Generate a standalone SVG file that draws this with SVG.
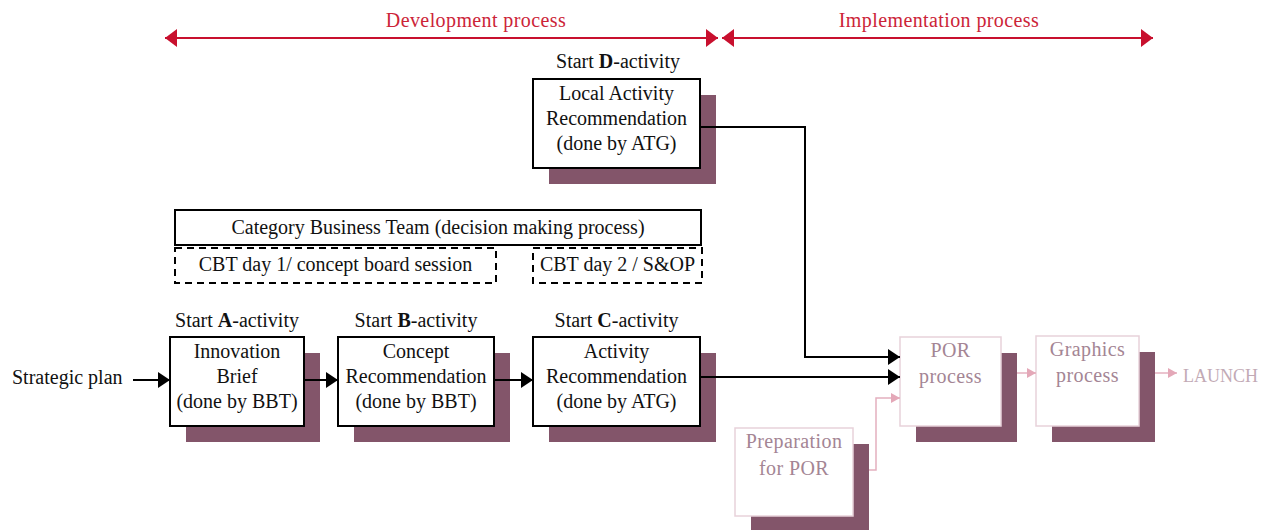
<svg xmlns="http://www.w3.org/2000/svg" width="1267" height="530" viewBox="0 0 1267 530">
  <style>
    text { font-family: "Liberation Serif", "Times New Roman", serif; font-size: 20px; fill: #111; }
    .mid { text-anchor: middle; }
    .phase { fill: #cc2438; letter-spacing: 0.4px; }
    .box { fill: #fff; stroke: #000; stroke-width: 2; }
    .dash { fill: none; stroke: #000; stroke-width: 2; stroke-dasharray: 7 5; }
    .shadow { fill: #83556a; }
    .pale { fill: #fff; stroke: #e8d2da; stroke-width: 1.5; }
    .paletext { fill: #a48594; letter-spacing: 0.4px; }
    .launch { fill: #c2aab5; font-size: 18px; }
    .flow { fill: none; stroke: #000; stroke-width: 2; }
    .pflow { fill: none; stroke: #e4b0bf; stroke-width: 1.5; }
    .span { fill: none; stroke: #c8102e; stroke-width: 2; }
  </style>
  <defs>
    <marker id="ah" markerWidth="12" markerHeight="16" refX="12" refY="8" orient="auto" markerUnits="userSpaceOnUse">
      <path d="M0,0 L12,8 L0,16 z" fill="#000"/>
    </marker>
    <marker id="ahp" markerWidth="9" markerHeight="10" refX="9" refY="5" orient="auto" markerUnits="userSpaceOnUse">
      <path d="M0,0 L9,5 L0,10 z" fill="#e4a8b8"/>
    </marker>
    <marker id="ahr" markerWidth="12" markerHeight="18" refX="12" refY="9" orient="auto-start-reverse" markerUnits="userSpaceOnUse">
      <path d="M0,0 L12,9 L0,18 z" fill="#c8102e"/>
    </marker>
  </defs>

  <!-- phase spans -->
  <g id="phases">
    <text class="phase mid" x="476" y="27">Development process</text>
    <path class="span" d="M165,38 H718" marker-start="url(#ahr)" marker-end="url(#ahr)"/>
    <text class="phase mid" x="939" y="27">Implementation process</text>
    <path class="span" d="M722,38 H1153" marker-start="url(#ahr)" marker-end="url(#ahr)"/>
  </g>

  <!-- decision making bar -->
  <g id="cbt">
    <rect class="box" x="175" y="210" width="526" height="35"/>
    <text class="mid" x="438" y="234">Category Business Team (decision making process)</text>
  </g>
  <g id="cbt-day1">
    <rect class="dash" x="175" y="248" width="321" height="35"/>
    <text class="mid" x="335.5" y="271">CBT day 1/ concept board session</text>
  </g>
  <g id="cbt-day2">
    <rect class="dash" x="533" y="248" width="169" height="35"/>
    <text class="mid" x="617.5" y="271">CBT day 2 / S&amp;OP</text>
  </g>

  <g id="strategic-plan">
    <text x="12" y="384">Strategic plan</text>
  </g>

  <!-- activity boxes -->
  <g id="activity-a">
    <text class="mid" x="237" y="327">Start <tspan font-weight="bold">A</tspan>-activity</text>
    <rect class="shadow" x="186" y="353" width="134" height="89"/>
    <rect class="box" x="170" y="337" width="134" height="89"/>
    <text class="mid" x="237" y="358">Innovation</text>
    <text class="mid" x="237" y="383">Brief</text>
    <text class="mid" x="237" y="408">(done by BBT)</text>
  </g>
  <g id="activity-b">
    <text class="mid" x="416" y="327">Start <tspan font-weight="bold">B</tspan>-activity</text>
    <rect class="shadow" x="354" y="353" width="156" height="89"/>
    <rect class="box" x="338" y="337" width="156" height="89"/>
    <text class="mid" x="416" y="358">Concept</text>
    <text class="mid" x="416" y="383">Recommendation</text>
    <text class="mid" x="416" y="408">(done by BBT)</text>
  </g>
  <g id="activity-c">
    <text class="mid" x="616.5" y="327">Start <tspan font-weight="bold">C</tspan>-activity</text>
    <rect class="shadow" x="549" y="353" width="167" height="89"/>
    <rect class="box" x="533" y="337" width="167" height="89"/>
    <text class="mid" x="616.5" y="358">Activity</text>
    <text class="mid" x="616.5" y="383">Recommendation</text>
    <text class="mid" x="616.5" y="408">(done by ATG)</text>
  </g>
  <g id="activity-d">
    <text class="mid" x="618" y="68">Start <tspan font-weight="bold">D</tspan>-activity</text>
    <rect class="shadow" x="549" y="95" width="167" height="89"/>
    <rect class="box" x="533" y="79" width="167" height="89"/>
    <text class="mid" x="616.5" y="100">Local Activity</text>
    <text class="mid" x="616.5" y="125">Recommendation</text>
    <text class="mid" x="616.5" y="150">(done by ATG)</text>
  </g>

  <!-- implementation steps -->
  <g id="por">
    <rect class="shadow" x="916" y="353" width="101" height="89"/>
    <rect class="pale" x="900" y="337" width="101" height="89"/>
    <text class="paletext mid" x="950.5" y="357">POR</text>
    <text class="paletext mid" x="950.5" y="383">process</text>
  </g>
  <g id="graphics">
    <rect class="shadow" x="1052" y="352" width="103" height="90"/>
    <rect class="pale" x="1036" y="336" width="103" height="90"/>
    <text class="paletext mid" x="1087.5" y="356">Graphics</text>
    <text class="paletext mid" x="1087.5" y="382">process</text>
  </g>
  <g id="preparation">
    <rect class="shadow" x="751" y="444" width="118" height="88"/>
    <rect class="pale" x="735" y="428" width="118" height="88"/>
    <text class="paletext mid" x="794" y="448">Preparation</text>
    <text class="paletext mid" x="794" y="475">for POR</text>
  </g>
  <g id="launch">
    <text class="launch" x="1183" y="382">LAUNCH</text>
  </g>

  <!-- connectors -->
  <g id="connectors">
    <path class="flow" d="M133,380 H170" marker-end="url(#ah)"/>
    <path class="flow" d="M304,380 H338" marker-end="url(#ah)"/>
    <path class="flow" d="M494,380 H533" marker-end="url(#ah)"/>
    <path class="flow" d="M700,377 H900" marker-end="url(#ah)"/>
    <path class="flow" d="M700,127 H805 V357 H900" marker-end="url(#ah)"/>
    <path class="pflow" d="M869,470 H876 V398 H900" marker-end="url(#ahp)"/>
    <path class="pflow" d="M1017,373 H1036" marker-end="url(#ahp)"/>
    <path class="pflow" d="M1155,373 H1177" marker-end="url(#ahp)"/>
  </g>
</svg>
